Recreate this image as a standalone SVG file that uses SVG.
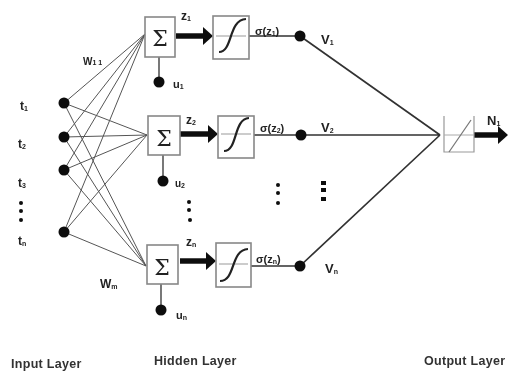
<svg xmlns="http://www.w3.org/2000/svg" width="513" height="372" viewBox="0 0 513 372">
<style>
text{font-family:"Liberation Sans",Arial,sans-serif;fill:#222}
.b{font-weight:bold}
.s{font-size:7px}
.l{font-size:12.5px;font-weight:bold;fill:#333;letter-spacing:.3px}
.w{fill:none;stroke:#555;stroke-width:1}
.c{fill:none;stroke:#333;stroke-width:1.3}
.box{fill:#fff;stroke:#888;stroke-width:1.6}
.d{fill:#111}
.a{fill:none;stroke:#111;stroke-width:5.5;marker-end:url(#h)}
.sig{fill:none;stroke:#222;stroke-width:2.2}
.mid{stroke:#999;stroke-width:1}
.sum{font-family:"DejaVu Serif","Liberation Serif",serif;font-size:22px;fill:#222;text-anchor:middle}
</style>
<defs>
<marker id="h" markerUnits="userSpaceOnUse" markerWidth="10" markerHeight="18" refX="6" refY="9" orient="auto"><path d="M0 0L10 9L0 18Z" fill="#111"/></marker>
<filter id="f" x="-5%" y="-5%" width="110%" height="110%"><feGaussianBlur stdDeviation="0.7"/></filter>
</defs>
<rect width="513" height="372" fill="#fff"/>
<g filter="url(#f)">
<g id="connectors">
<path class="w" d="M64 103L145 34M64 137L145 34M64 170L145 34M64 232L145 34"/>
<path class="w" d="M64 103L147 135M64 137L147 135M64 170L147 135M64 232L147 135"/>
<path class="w" d="M64 103L146 266M64 137L146 266M64 170L146 266M64 232L146 266"/>
<path class="c" d="M159 57V82M163 155V181M161 284V310"/>
<path class="c" d="M249 36H300M254 135H301M251 266H300"/>
<path class="c" d="M300 36L440 135M301 135H440M300 266L440 135" style="stroke-width:1.7"/>
<path class="a" d="M176 36H209"/>
<path class="a" d="M180 134H214"/>
<path class="a" d="M180 261H212"/>
<path class="a" d="M474 135H504"/>
</g>
<g id="input-1"><circle class="d" cx="64" cy="103" r="5.5"/><text x="20" y="110" font-size="12" class="b">t<tspan class="s" dy="1">1</tspan></text></g>
<g id="input-2"><circle class="d" cx="64" cy="137" r="5.5"/><text x="18" y="148" font-size="12" class="b">t<tspan class="s" dy="1">2</tspan></text></g>
<g id="input-3"><circle class="d" cx="64" cy="170" r="5.5"/><text x="18" y="187" font-size="12" class="b">t<tspan class="s" dy="1">3</tspan></text></g>
<g id="input-n"><circle class="d" cx="64" cy="232" r="5.5"/><text x="18" y="245" font-size="12" class="b">t<tspan class="s" dy="1">n</tspan></text></g>
<g id="input-dots"><circle class="d" cx="21" cy="203" r="2"/><circle class="d" cx="21" cy="211" r="2"/><circle class="d" cx="21" cy="220" r="2"/></g>
<g id="sum-1"><rect class="box" x="145" y="17" width="30" height="40"/><text class="sum" x="160" y="46">Σ</text><circle class="d" cx="159" cy="82" r="5.5"/><text x="173" y="88" font-size="11" class="b">u<tspan class="s" dy="1">1</tspan></text></g>
<g id="sum-2"><rect class="box" x="148" y="116" width="32" height="39"/><text class="sum" x="164" y="146">Σ</text><circle class="d" cx="163" cy="181" r="5.5"/><text x="175" y="187" font-size="10" class="b">u<tspan class="s" dy="1">2</tspan></text></g>
<g id="sum-3"><rect class="box" x="147" y="245" width="31" height="39"/><text class="sum" x="162" y="275">Σ</text><circle class="d" cx="161" cy="310" r="5.5"/><text x="176" y="319" font-size="11" class="b">u<tspan class="s" dy="1">n</tspan></text></g>
<g id="hidden-dots"><circle class="d" cx="189" cy="202" r="2"/><circle class="d" cx="189" cy="210" r="2"/><circle class="d" cx="190" cy="220" r="2"/></g>
<g id="sig-1"><rect class="box" x="213" y="16" width="36" height="43"/><path class="mid" d="M216 36H246"/><path class="sig" d="M219 52C233 52 228 20 246 19"/></g>
<g id="sig-2"><rect class="box" x="218" y="116" width="36" height="42"/><path class="mid" d="M221 134H251"/><path class="sig" d="M224 151C238 151 233 119 249 118"/></g>
<g id="sig-3"><rect class="box" x="216" y="243" width="35" height="44"/><path class="mid" d="M219 264H248"/><path class="sig" d="M220 281C236 281 230 250 248 249"/></g>
<g id="output-1"><circle class="d" cx="300" cy="36" r="5.5"/><text x="255" y="35" font-size="11" class="b">σ(z<tspan class="s" dy="1">1</tspan><tspan dy="-1">)</tspan></text><text x="321" y="44" font-size="13" class="b">V<tspan class="s" dy="1">1</tspan></text></g>
<g id="output-2"><circle class="d" cx="301" cy="135" r="5.5"/><text x="260" y="132" font-size="11" class="b">σ(z<tspan class="s" dy="1">2</tspan><tspan dy="-1">)</tspan></text><text x="321" y="132" font-size="13" class="b">V<tspan class="s" dy="1">2</tspan></text></g>
<g id="output-n"><circle class="d" cx="300" cy="266" r="5.5"/><text x="256" y="263" font-size="11" class="b">σ(z<tspan class="s" dy="1">n</tspan><tspan dy="-1">)</tspan></text><text x="325" y="273" font-size="13" class="b">V<tspan class="s" dy="1">n</tspan></text></g>
<g id="mid-dots"><circle class="d" cx="278" cy="185" r="2"/><circle class="d" cx="278" cy="193" r="2"/><circle class="d" cx="278" cy="203" r="2"/><rect class="d" x="321" y="181" width="5" height="4"/><rect class="d" x="321" y="188" width="5" height="4"/><rect class="d" x="321" y="197" width="5" height="4"/></g>
<g id="linear"><path d="M444 116V152H474V116" fill="none" stroke="#999" stroke-width="1.2"/><path d="M444 135H474" stroke="#aaa" stroke-width="1"/><path d="M449 152L471 120" fill="none" stroke="#777" stroke-width="1.3"/></g>
<g id="labels">
<text x="83" y="65" font-size="10" class="b" fill="#444">W<tspan class="s">1 1</tspan></text>
<text x="100" y="288" font-size="12" class="b">W<tspan class="s" dy="1">m</tspan></text>
<text x="181" y="20" font-size="12" class="b">z<tspan class="s" dy="1">1</tspan></text>
<text x="186" y="124" font-size="12" class="b">z<tspan class="s" dy="1">2</tspan></text>
<text x="186" y="246" font-size="12" class="b">z<tspan class="s" dy="1">n</tspan></text>
<text x="487" y="125" font-size="13" class="b">N<tspan class="s" dy="1">1</tspan></text>
<text class="l" x="11" y="368">Input Layer</text>
<text class="l" x="154" y="365">Hidden Layer</text>
<text class="l" x="424" y="365">Output Layer</text>
</g>
</g>
</svg>
